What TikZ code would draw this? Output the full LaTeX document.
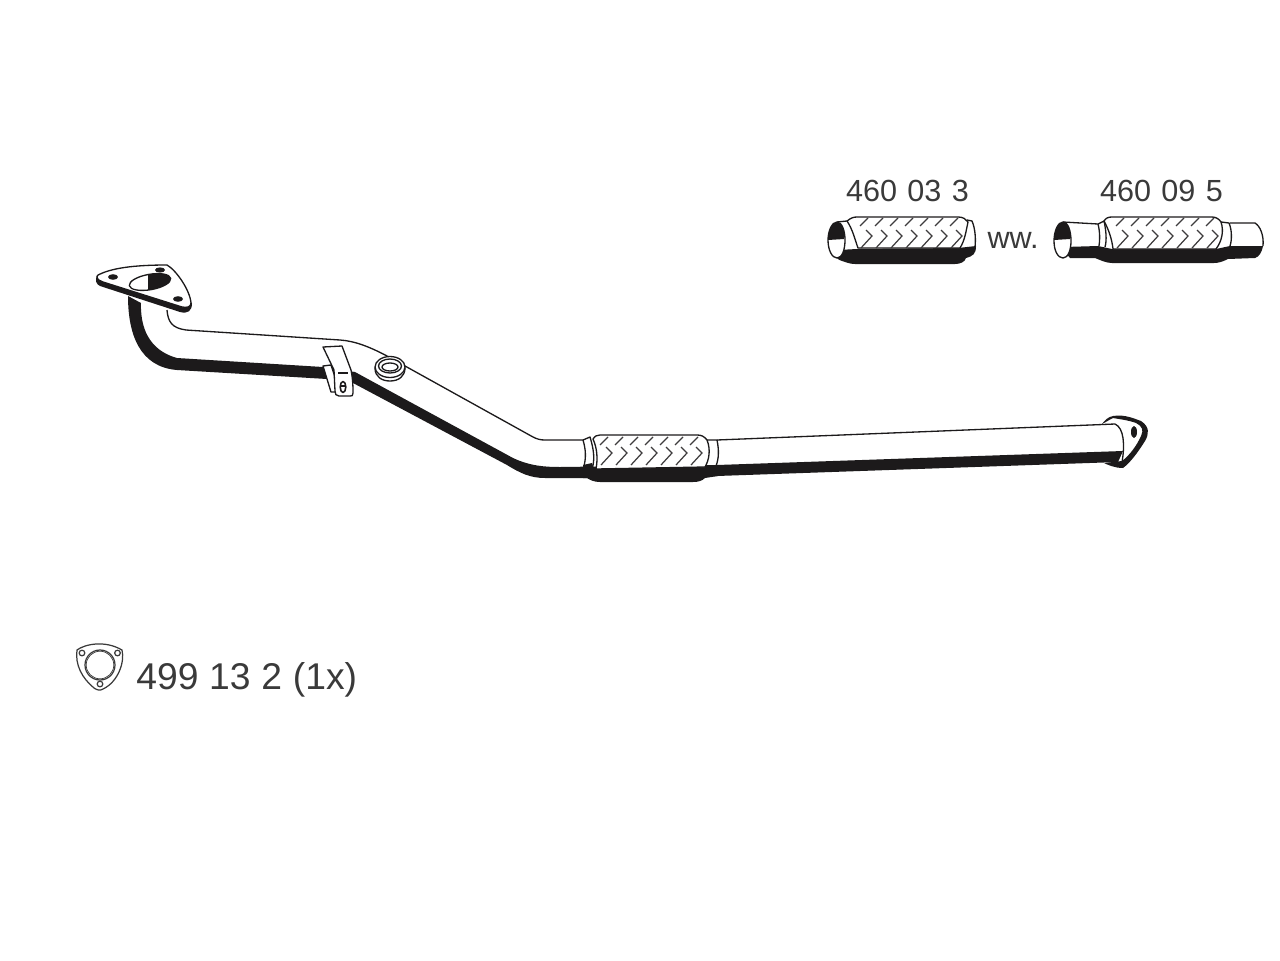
\documentclass[tikz,border=0pt]{standalone}
\usepackage{fontspec}
\setmainfont{Liberation Sans}
\definecolor{inkblack}{HTML}{1C1A1B}
\definecolor{labelgray}{HTML}{3A3A3A}
\newcommand{\partfont}{\fontsize{17.4}{20}\selectfont\spaceskip 0.34em\relax}
\newcommand{\gasketfont}{\fontsize{21.2}{24}\selectfont\spaceskip 0.29em\relax}
\tikzset{%
  outline/.style = {draw = inkblack, line width = 0.75pt, line join = round},
  solid band/.style = {fill = inkblack},
  hatch/.style = {draw = inkblack!85, line width = 0.7pt},
  partlabel/.style = {font = \partfont, text = labelgray, inner sep = 0pt, anchor = base},
  gasketlabel/.style = {font = \gasketfont, text = labelgray, inner sep = 0pt, anchor = base west},
  gasketline/.style = {draw = labelgray, line width = 0.7pt}
}
% chevrons of a flexible section: first x, spacing, count, top row y, lower row y
\newcommand{\flexhatch}[5]{%
  \foreach \k in {1,...,#3} {
    \pgfmathsetmacro{\xk}{#1+(\k-1)*#2}
    \draw[hatch] (\xk,#4+8) -- (\xk+8,#4);
    \draw[hatch] (\xk+6,#5-6) -- (\xk+12,#5) -- (\xk+1,#5+12);
  }%
}
\begin{document}
\begin{tikzpicture}[x=0.02cm, y=-0.02cm]
    \useasboundingbox (0,0) rectangle (1280,960);
    \fill[white] (0,0) rectangle (1280,960);
    % main pipe, dark underside
    \fill[solid band] (128,296) .. controls (128,335) and (140,367) .. (177,370) -- (327,379) -- (353,383)
      -- (507,465) .. controls (520,473) and (530,478) .. (545,478) -- (587,478) -- (717,476) -- (1118,462) -- (1123,451) -- (717,465)
      -- (560,467) .. controls (545,467) and (530,466) .. (513,458) -- (355,372) -- (323,367) -- (177,358)
      .. controls (155,352) and (140,335) .. (141,303) -- cycle;
    % main pipe, upper edge
    \draw[outline] (167,310) .. controls (168,322) and (172,328) .. (186,330) -- (340,340)
      .. controls (355,341) and (370,347) .. (387,356) -- (533,437) .. controls (537,439) and (540,440) .. (545,440)
      -- (583,440);
    \draw[outline] (717,440) -- (1115,424);
    \draw[outline] (1115,424) .. controls (1124,428) and (1125,445) .. (1122,462);
    % outlet flange
    \fill[solid band] (1113,416) .. controls (1125,414) and (1135,419) .. (1141,421)
      .. controls (1150,427) and (1149,434) .. (1145,441) .. controls (1138,452) and (1131,462) .. (1123,468)
      .. controls (1115,468) and (1108,465) .. (1104,463) -- (1122,461) .. controls (1130,455) and (1137,445) .. (1141,436)
      .. controls (1144,430) and (1142,426) .. (1136,423) .. controls (1128,420) and (1118,419) .. (1113,418)
      .. controls (1109,420) and (1106,422) .. (1102,424) .. controls (1105,420) and (1108,417) .. (1113,416) -- cycle;
    \fill[solid band] (1134,432) ellipse [x radius = 3, y radius = 6];
    % inlet flange
    \fill[solid band] (97,275) .. controls (95,281) and (96,284) .. (100,286) -- (180,312)
      .. controls (188,314) and (192,311) .. (192,303) -- (185,300) -- (120,283) -- cycle;
    \draw[outline, fill = white] (98,275) .. controls (108,270) and (125,265) .. (167,265)
      .. controls (176,270) and (190,290) .. (191,303) .. controls (191,307) and (187,308) .. (182,307)
      -- (103,282) .. controls (97,280) and (96,277) .. (98,275) -- cycle;
    \draw[outline, fill = white, rotate around = {10:(150,282)}] (150,282) ellipse [x radius = 21, y radius = 7.7];
    \begin{scope}
      \clip (148,265) rectangle (180,300);
      \fill[solid band, rotate around = {10:(150,282)}] (150,282) ellipse [x radius = 21, y radius = 7.7];
    \end{scope}
    \fill[solid band] (113,277) ellipse [x radius = 5, y radius = 2.8];
    \fill[solid band] (160,270) ellipse [x radius = 5, y radius = 2.6];
    \fill[solid band] (178,299) ellipse [x radius = 5, y radius = 2.8];
    % bracket
    \draw[outline, fill = white] (323,366) -- (331,365) -- (340,392) -- (331,392) -- cycle;
    \draw[outline, fill = white] (323,347) -- (342,346) -- (351,370) .. controls (353,380) and (353,388) .. (353,393)
      .. controls (353,396) and (352,396) .. (350,396) -- (339,396) .. controls (336,396) and (335,394) .. (335,391)
      -- (334,370) -- cycle;
    \draw[outline, line width = 0.9pt] (338,373) -- (348,373);
    \draw[outline, line width = 0.9pt] (343,387) ellipse [x radius = 2.8, y radius = 5.5];
    \draw[outline, line width = 0.7pt] (340,386) -- (346,386);
    % boss on the pipe
    \draw[outline, fill = white] (375,368) .. controls (375,377) and (382,381) .. (390,381)
      .. controls (399,381) and (405,376) .. (405,368) -- cycle;
    \draw[outline, fill = white] (390,367) ellipse [x radius = 15, y radius = 10.5];
    \draw[outline] (390,366) ellipse [x radius = 11.5, y radius = 7];
    \draw[outline, fill = white] (390,367) ellipse [x radius = 8, y radius = 4];
    % flexible section on the pipe
    \fill[solid band] (583,465) -- (592,463) -- (594,470) -- (702,470) -- (707,465) -- (718,465) -- (718,476)
      -- (705,478) .. controls (702,481) and (698,482) .. (693,482) -- (600,482) .. controls (594,482) and (590,480) .. (587,478) -- (583,478) -- cycle;
    \draw[outline] (583,440) .. controls (586,450) and (586,458) .. (584,466);
    \draw[outline] (583,440) -- (590,437) .. controls (594,450) and (595,460) .. (592,469);
    \draw[outline, fill = white] (593,439) .. controls (595,436) and (597,435) .. (600,435) -- (697,435)
      .. controls (701,435) and (704,436) .. (707,440) .. controls (711,450) and (709,460) .. (705,467)
      -- (596,469) .. controls (598,458) and (597,448) .. (593,439) -- cycle;
    \draw[outline] (707,440) -- (717,440) .. controls (719,450) and (719,458) .. (716,466);
    \flexhatch{600}{15}{7}{437}{453}
    % loose part 460 03 3
    \node[partlabel] (labelA) at (907.5,201) {460 03 3};
    \fill[solid band] (838,250) -- (857,249) -- (958,248) -- (976,246) .. controls (976,254) and (973,256) .. (966,258)
      .. controls (965,262) and (960,264) .. (955,264) -- (855,264) .. controls (849,264) and (846,262) .. (842,261)
      .. controls (837,260) and (834,255) .. (833,250) -- cycle;
    \draw[outline] (837,222) -- (847,221);
    \draw[outline, fill = white] (837,222) .. controls (832,222) and (828,231) .. (828,240)
      .. controls (828,250) and (832,258) .. (837,258) .. controls (842,258) and (845,250) .. (845,240)
      .. controls (845,231) and (842,222) .. (837,222) -- cycle;
    \fill[solid band] (828,240) .. controls (828,231) and (832,222) .. (837,222)
      .. controls (842,222) and (845,231) .. (844,239) -- cycle;
    \draw[outline, fill = white] (847,221) .. controls (851,218) and (853,217) .. (857,217) -- (958,217)
      .. controls (963,217) and (966,219) .. (968,222) .. controls (966,231) and (965,240) .. (960,248)
      -- (858,248) .. controls (855,240) and (853,230) .. (847,221) -- cycle;
    \draw[outline] (967,220) -- (972,221) .. controls (975,228) and (976,238) .. (975,247);
    \flexhatch{860}{15}{7}{218}{236}
    \node[partlabel] (labelWw) at (1013,248) {ww.};
    % loose part 460 09 5
    \node[partlabel] (labelB) at (1161.5,201) {460 09 5};
    \fill[solid band] (1064,247) -- (1098,246) -- (1112,249) -- (1216,249) -- (1230,246) -- (1263,246)
      .. controls (1262,252) and (1259,257) .. (1255,258) -- (1228,259) .. controls (1222,262) and (1218,263) .. (1214,263)
      -- (1112,263) .. controls (1106,263) and (1100,260) .. (1095,258) -- (1070,258) .. controls (1067,255) and (1065,251) .. (1064,247) -- cycle;
    \draw[outline] (1063,222) -- (1098,224);
    \draw[outline] (1230,223) -- (1255,223) .. controls (1260,226) and (1264,235) .. (1263,246);
    \draw[outline, fill = white] (1063,222) .. controls (1058,222) and (1054,231) .. (1054,241)
      .. controls (1054,251) and (1058,258) .. (1063,258) .. controls (1068,258) and (1071,250) .. (1071,241)
      .. controls (1071,231) and (1068,222) .. (1063,222) -- cycle;
    \fill[solid band] (1054,240) .. controls (1054,231) and (1058,222) .. (1063,222)
      .. controls (1068,222) and (1071,231) .. (1070,239) -- cycle;
    \draw[outline] (1098,224) -- (1104,221) .. controls (1106,230) and (1107,240) .. (1105,247);
    \draw[outline] (1098,224) .. controls (1100,232) and (1100,240) .. (1099,246);
    \draw[outline, fill = white] (1104,221) .. controls (1106,218) and (1108,217) .. (1112,217) -- (1212,217)
      .. controls (1216,217) and (1219,219) .. (1221,222) .. controls (1224,231) and (1222,241) .. (1216,249)
      -- (1113,249) .. controls (1112,240) and (1109,230) .. (1104,221) -- cycle;
    \draw[outline] (1221,222) -- (1229,223) .. controls (1232,230) and (1232,240) .. (1230,246);
    \flexhatch{1116}{15}{7}{218}{236}
    % gasket with its number
    \draw[gasketline] (77,650) .. controls (85,644) and (105,640) .. (122,650)
      .. controls (125,662) and (118,682) .. (103,689) .. controls (100,691) and (97,690) .. (94,688)
      .. controls (82,678) and (75,665) .. (77,650) -- cycle;
    \draw[gasketline] (100,665) circle [radius = 15];
    \draw[gasketline, line width = 0.4pt] (100,665) circle [radius = 13.8];
    \draw[gasketline] (82,653) circle [radius = 2.8];
    \draw[gasketline] (117.5,653) circle [radius = 2.8];
    \draw[gasketline] (100,684) circle [radius = 2.8];
    \node[gasketlabel] (labelGasket) at (136,689) {499 13 2 (1x)};
\end{tikzpicture}
\end{document}
